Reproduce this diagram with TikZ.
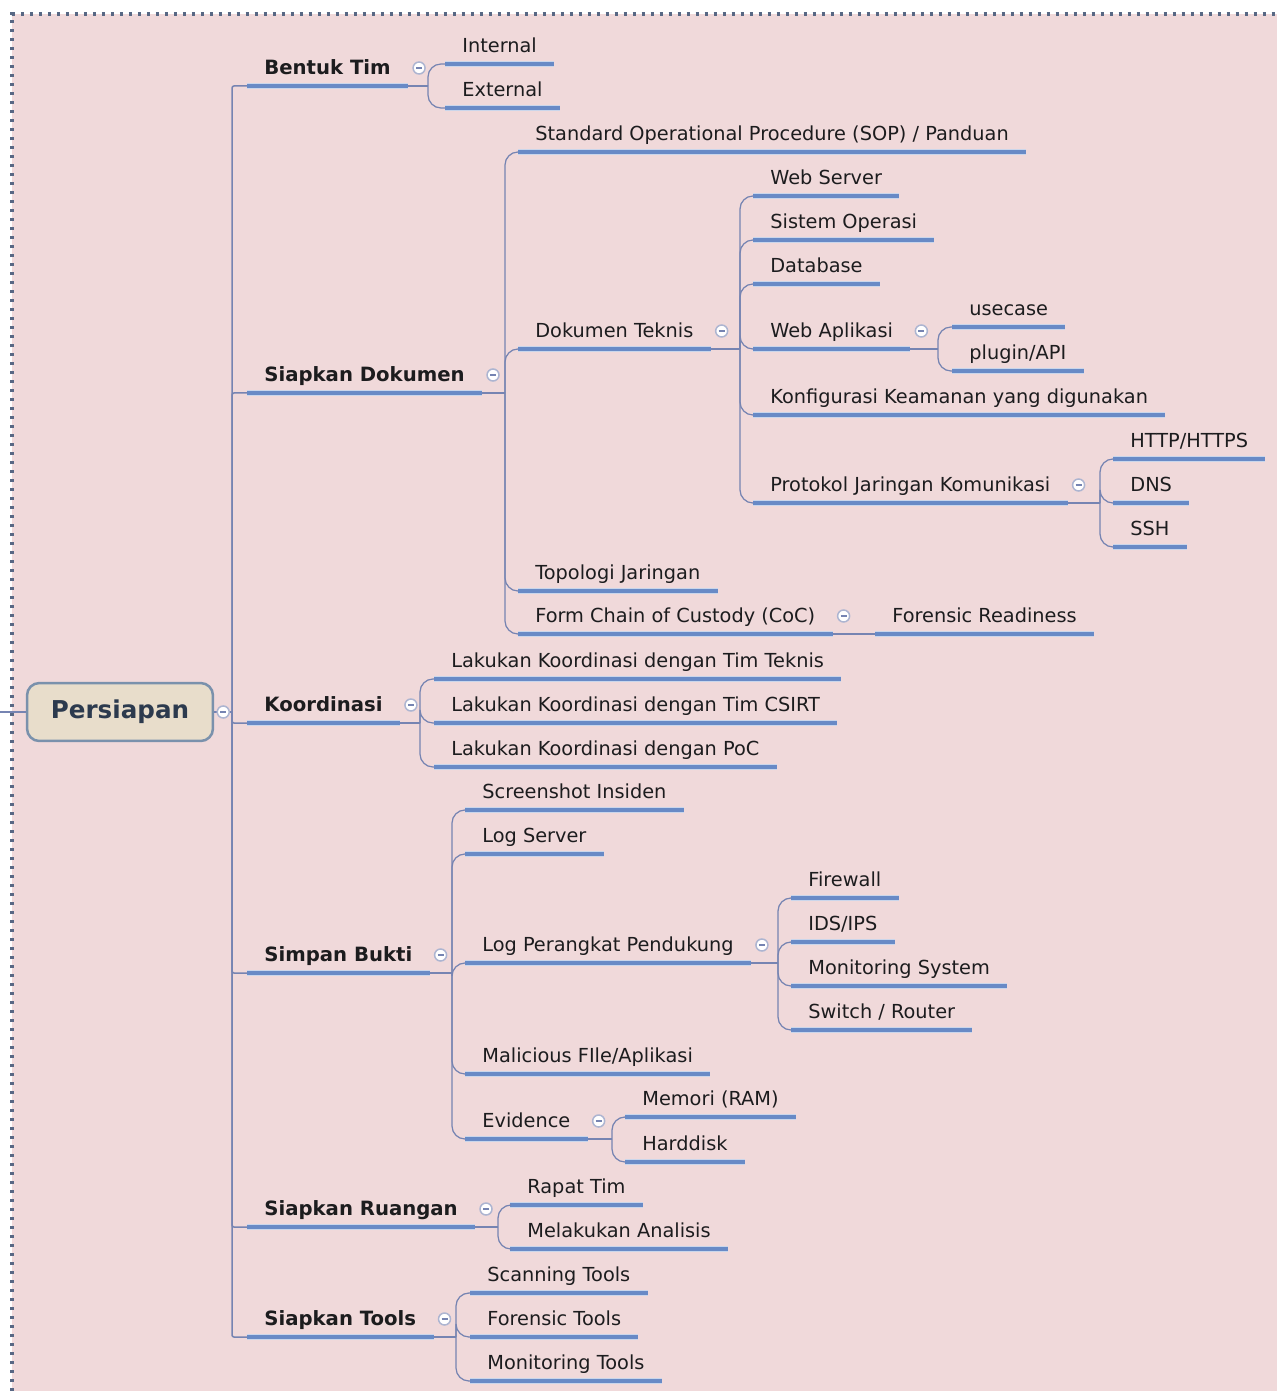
\documentclass[tikz,border=0pt]{standalone}
\usepackage{fontspec}
\setmainfont{DejaVu Sans}
\definecolor{bgpink}{RGB}{240,217,218}
\definecolor{ublue}{RGB}{104,138,198}
\definecolor{lblue}{RGB}{118,132,178}
\definecolor{ink}{RGB}{28,28,30}
\definecolor{rootfill}{RGB}{232,221,203}
\definecolor{rootline}{RGB}{122,145,172}
\definecolor{rootink}{RGB}{44,58,78}
\definecolor{dots}{RGB}{88,104,132}
\tikzset{uline/.style={draw = ublue,line width = .08cm,preaction = {draw = ublue!35,line width = .13cm}},
topic/.style={anchor = south west,inner xsep = .34cm,inner ysep = 0pt,text depth = .22cm,text = ink,font = \fontsize{11}{13}\selectfont,
  append after command = {(\tikzlastnode.south west) edge[uline] (\tikzlastnode.south east)}},
main/.style={topic,font = \fontsize{11.2}{13}\selectfont\bfseries},
link/.style = {draw = lblue,line width = .025cm},
branch/.style = {link,rounded corners = .26cm},
trunk/.style = {link,line width = .03cm,rounded corners = .04cm},
fold/.style = {circle,draw = lblue!60,fill = white,line width = .03cm,minimum size = .24cm,inner sep = 0pt,
  path picture = {\draw[lblue,line width = .03cm] ([xshift = -.06cm]path picture bounding box.center) -- ([xshift = .06cm]path picture bounding box.center);}}}

\begin{document}
\begin{tikzpicture}[x = .02cm,y = -.02cm]
\useasboundingbox (0,0) rectangle (1277,1391);
\fill[white] (0,0) rectangle (1277,1391);
\fill[bgpink] (12,14) rectangle (1277,1391);
\draw[dots,line width = .07cm,dash pattern = on .07cm off .11cm] (12,1391) -- (12,14) -- (1277,14);

\node[draw = rootline,fill = rootfill,line width = .05cm,rounded corners = 7pt,minimum width = 3.72cm,minimum height = 1.16cm,
  text = rootink,font = \fontsize{14}{16}\selectfont\bfseries] (root) at (120,712) {Persiapan};

% level 1
\node[main] (bentuk) at (247,86) {Bentuk Tim};
\node[main] (dokumen) at (247,393) {Siapkan Dokumen};
\node[main] (koordinasi) at (247,723) {Koordinasi};
\node[main] (bukti) at (247,973) {Simpan Bukti};
\node[main] (ruangan) at (247,1227) {Siapkan Ruangan};
\node[main] (tools) at (247,1337) {Siapkan Tools};

% bentuk tim
\node[topic] (internal) at (445,64) {Internal};
\node[topic] (external) at (445,108) {External};

% siapkan dokumen
\node[topic] (sop) at (518,152) {Standard Operational Procedure (SOP) / Panduan};
\node[topic] (teknis) at (518,349) {Dokumen Teknis};
\node[topic] (topologi) at (518,591) {Topologi Jaringan};
\node[topic] (coc) at (518,634) {Form Chain of Custody (CoC)};
\node[topic] (readiness) at (875,634) {Forensic Readiness};

\node[topic] (webserver) at (753,196) {Web Server};
\node[topic] (os) at (753,240) {Sistem Operasi};
\node[topic] (database) at (753,284) {Database};
\node[topic] (webapp) at (753,349) {Web Aplikasi};
\node[topic] (konfig) at (753,415) {Konfigurasi Keamanan yang digunakan};
\node[topic] (protokol) at (753,503) {Protokol Jaringan Komunikasi};

\node[topic] (usecase) at (952,327) {usecase};
\node[topic] (plugin) at (952,371) {plugin/API};

\node[topic] (http) at (1113,459) {HTTP/HTTPS};
\node[topic] (dns) at (1113,503) {DNS};
\node[topic] (ssh) at (1113,547) {SSH};

% koordinasi
\node[topic] (tteknis) at (434,679) {Lakukan Koordinasi dengan Tim Teknis};
\node[topic] (csirt) at (434,723) {Lakukan Koordinasi dengan Tim CSIRT};
\node[topic] (poc) at (434,767) {Lakukan Koordinasi dengan PoC};

% simpan bukti
\node[topic] (screenshot) at (465,810) {Screenshot Insiden};
\node[topic] (logserver) at (465,854) {Log Server};
\node[topic] (perangkat) at (465,963) {Log Perangkat Pendukung};
\node[topic] (malicious) at (465,1074) {Malicious FIle/Aplikasi};
\node[topic] (evidence) at (465,1139) {Evidence};

\node[topic] (firewall) at (791,898) {Firewall};
\node[topic] (ids) at (791,942) {IDS/IPS};
\node[topic] (monsys) at (791,986) {Monitoring System};
\node[topic] (switch) at (791,1030) {Switch / Router};

\node[topic] (ram) at (625,1117) {Memori (RAM)};
\node[topic] (hdd) at (625,1162) {Harddisk};

% siapkan ruangan
\node[topic] (rapat) at (510,1205) {Rapat Tim};
\node[topic] (analisis) at (510,1249) {Melakukan Analisis};

% siapkan tools
\node[topic] (scanning) at (470,1293) {Scanning Tools};
\node[topic] (forensic) at (470,1337) {Forensic Tools};
\node[topic] (montools) at (470,1381) {Monitoring Tools};

% junctions
\coordinate (edge) at (0,712);
\coordinate (root-j) at (232,712);
\coordinate (bentuk-j) at (428,86);
\coordinate (dokumen-j) at (505,393);
\coordinate (teknis-j) at (740,349);
\coordinate (webapp-j) at (938,349);
\coordinate (protokol-j) at (1100,503);
\coordinate (koordinasi-j) at (420,723);
\coordinate (bukti-j) at (452,973);
\coordinate (perangkat-j) at (778,963);
\coordinate (evidence-j) at (612,1139);
\coordinate (ruangan-j) at (498,1227);
\coordinate (tools-j) at (456,1337);

% connectors
\draw[link] (edge) -- (root.west);
\draw[link] (root.east) -- (root-j);
\draw[trunk] (root-j) |- (bentuk.south west);
\draw[trunk] (root-j) |- (dokumen.south west);
\draw[trunk] (root-j) |- (koordinasi.south west);
\draw[trunk] (root-j) |- (bukti.south west);
\draw[trunk] (root-j) |- (ruangan.south west);
\draw[trunk] (root-j) |- (tools.south west);

\draw[link] (bentuk.south east) -- (bentuk-j);
\draw[branch] (bentuk-j) |- (internal.south west);
\draw[branch] (bentuk-j) |- (external.south west);

\draw[link] (dokumen.south east) -- (dokumen-j);
\draw[branch] (dokumen-j) |- (sop.south west);
\draw[branch] (dokumen-j) |- (teknis.south west);
\draw[branch] (dokumen-j) |- (topologi.south west);
\draw[branch] (dokumen-j) |- (coc.south west);
\draw[link] (coc.south east) -- (readiness.south west);

\draw[link] (teknis.south east) -- (teknis-j);
\draw[branch] (teknis-j) |- (webserver.south west);
\draw[branch] (teknis-j) |- (os.south west);
\draw[branch] (teknis-j) |- (database.south west);
\draw[branch] (teknis-j) |- (webapp.south west);
\draw[branch] (teknis-j) |- (konfig.south west);
\draw[branch] (teknis-j) |- (protokol.south west);

\draw[link] (webapp.south east) -- (webapp-j);
\draw[branch] (webapp-j) |- (usecase.south west);
\draw[branch] (webapp-j) |- (plugin.south west);

\draw[link] (protokol.south east) -- (protokol-j);
\draw[branch] (protokol-j) |- (http.south west);
\draw[branch] (protokol-j) |- (dns.south west);
\draw[branch] (protokol-j) |- (ssh.south west);

\draw[link] (koordinasi.south east) -- (koordinasi-j);
\draw[branch] (koordinasi-j) |- (tteknis.south west);
\draw[branch] (koordinasi-j) |- (csirt.south west);
\draw[branch] (koordinasi-j) |- (poc.south west);

\draw[link] (bukti.south east) -- (bukti-j);
\draw[branch] (bukti-j) |- (screenshot.south west);
\draw[branch] (bukti-j) |- (logserver.south west);
\draw[branch] (bukti-j) |- (perangkat.south west);
\draw[branch] (bukti-j) |- (malicious.south west);
\draw[branch] (bukti-j) |- (evidence.south west);

\draw[link] (perangkat.south east) -- (perangkat-j);
\draw[branch] (perangkat-j) |- (firewall.south west);
\draw[branch] (perangkat-j) |- (ids.south west);
\draw[branch] (perangkat-j) |- (monsys.south west);
\draw[branch] (perangkat-j) |- (switch.south west);

\draw[link] (evidence.south east) -- (evidence-j);
\draw[branch] (evidence-j) |- (ram.south west);
\draw[branch] (evidence-j) |- (hdd.south west);

\draw[link] (ruangan.south east) -- (ruangan-j);
\draw[branch] (ruangan-j) |- (rapat.south west);
\draw[branch] (ruangan-j) |- (analisis.south west);

\draw[link] (tools.south east) -- (tools-j);
\draw[branch] (tools-j) |- (scanning.south west);
\draw[branch] (tools-j) |- (forensic.south west);
\draw[branch] (tools-j) |- (montools.south west);

% fold markers
\node[fold] (root-f) at ([xshift = .18cm]root.east) {};
\node[fold] (bentuk-f) at ([xshift = .22cm,yshift = .36cm]bentuk.south east) {};
\node[fold] (dokumen-f) at ([xshift = .22cm,yshift = .36cm]dokumen.south east) {};
\node[fold] (teknis-f) at ([xshift = .22cm,yshift = .36cm]teknis.south east) {};
\node[fold] (webapp-f) at ([xshift = .22cm,yshift = .36cm]webapp.south east) {};
\node[fold] (protokol-f) at ([xshift = .22cm,yshift = .36cm]protokol.south east) {};
\node[fold] (coc-f) at ([xshift = .22cm,yshift = .36cm]coc.south east) {};
\node[fold] (koordinasi-f) at ([xshift = .22cm,yshift = .36cm]koordinasi.south east) {};
\node[fold] (bukti-f) at ([xshift = .22cm,yshift = .36cm]bukti.south east) {};
\node[fold] (perangkat-f) at ([xshift = .22cm,yshift = .36cm]perangkat.south east) {};
\node[fold] (evidence-f) at ([xshift = .22cm,yshift = .36cm]evidence.south east) {};
\node[fold] (ruangan-f) at ([xshift = .22cm,yshift = .36cm]ruangan.south east) {};
\node[fold] (tools-f) at ([xshift = .22cm,yshift = .36cm]tools.south east) {};
\end{tikzpicture}
\end{document}
